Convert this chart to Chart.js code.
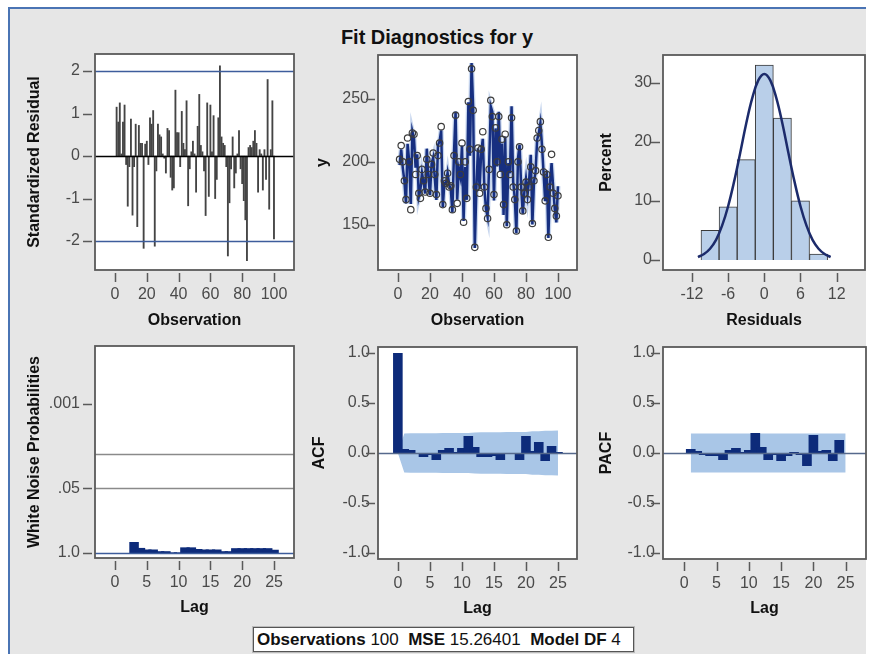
<!DOCTYPE html>
<html>
<head>
<meta charset="utf-8">
<script src="https://cdn.jsdelivr.net/npm/chart.js@4.4.1/dist/chart.umd.min.js"></script>
<style>
body{margin:0;background:#fff;width:874px;height:660px;overflow:hidden;position:relative;font-family:"Liberation Sans",Arial,sans-serif}
#frame{position:absolute;left:8px;top:7px;width:858px;height:647px;background:#e6e6e6;border-left:2px solid #4a74b4;border-top:2px solid #4a74b4;box-sizing:border-box}
#title{position:absolute;left:0;top:25px;width:874px;text-align:center;font-weight:bold;font-size:20px;line-height:24px;color:#111}
#stats{position:absolute;left:253px;top:627px;width:381px;height:25px;box-sizing:border-box;border:1px solid #555;box-shadow:0 0 0 1px #bbb;background:#fff;font-size:17px;line-height:23px;padding-left:3px;white-space:pre;color:#111}
canvas{position:absolute}
</style>
</head>
<body>
<div id="frame"></div>
<div id="title">Fit Diagnostics for y</div>
<div id="stats"><b>Observations</b> 100  <b>MSE</b> 15.26401  <b>Model DF</b> 4</div>
<script>
// ---- values ----
const stdResiduals = [1.15, 0.8, 1.25, 0.05, 0.8, 1.2, -0.2, -1.18, -0.25, 0.87,
  -1.39, -0.25, 0.75, -1.66, 0.72, 0.3, 0.3, -2.17, 0.28, 0.35,
  -0.2, 0.9, 0.75, 1.07, -2.12, -0.35, 0.75, 0.5, 0.45, 0.05,
  -0.05, -0.4, 0.65, 0.6, -0.5, -0.8, -0.75, 1.55, 0.55, 0.55,
  -0.25, 1.05, 0.3, 0.15, 1.3, -1.17, -0.3, 0.1, 0.35, 0.05,
  -0.85, 0.7, 1.45, 0.25, 0.1, -0.35, -1.4, 1.25, -0.95, 1.2,
  0.1, 0.95, -1.0, -0.55, 0.9, 2.12, 0.45, 0.3, 0.25, -0.25,
  -2.35, -1.1, -0.3, 0.45, -0.75, -0.4, 0.05, 0.6, -0.3, -0.65,
  -1.05, -1.5, -2.46, 0.2, 0.25, 0.2, 0.35, 0.6, 0.3, -0.85,
  0.15, 0.05, -0.8, 0.15, -0.55, 1.8, -1.25, 0.15, 1.3, -1.95];

const observedY = [202, 213, 200, 185, 170, 219, 200, 162, 223, 222,
  190, 205, 175, 171, 194, 185, 176, 202, 190, 175,
  198, 207, 190, 174, 205, 215, 228, 166, 185, 183,
  191, 180, 181, 162, 205, 237, 167, 200, 190, 215,
  152, 200, 171, 248, 210, 274, 241, 132, 180, 211,
  175, 210, 224, 180, 163, 155, 194, 249, 236, 174,
  227, 200, 236, 190, 218, 166, 222, 150, 200, 190,
  235, 180, 170, 145, 200, 212, 180, 161, 175, 184,
  170, 180, 196, 151, 185, 193, 219, 225, 232, 210,
  192, 169, 190, 140, 180, 206, 175, 163, 157, 173];

const predictedY = [197.5, 209.9, 195.1, 184.8, 166.9, 214.3, 200.8, 166.6, 224.0, 218.6,
  195.4, 206.0, 172.1, 177.5, 191.2, 183.8, 174.8, 210.5, 188.9, 173.6,
  198.8, 203.5, 187.1, 169.8, 213.3, 216.4, 225.1, 164.0, 183.2, 182.8,
  191.2, 181.6, 178.5, 159.7, 207.0, 240.1, 169.9, 194.0, 187.9, 212.9,
  153.0, 195.9, 169.8, 247.4, 204.9, 278.6, 242.2, 131.6, 178.6, 210.8,
  178.3, 207.3, 218.3, 179.0, 162.6, 156.4, 199.5, 244.1, 239.7, 169.3,
  226.6, 196.3, 239.9, 192.1, 214.5, 157.7, 220.2, 148.8, 199.0, 191.0,
  244.2, 184.3, 171.2, 143.2, 202.9, 213.6, 179.8, 158.7, 176.2, 186.5,
  174.1, 185.9, 205.6, 150.2, 184.0, 192.2, 217.6, 222.7, 230.8, 213.3,
  191.4, 168.8, 193.1, 139.4, 182.1, 199.0, 179.9, 162.4, 151.9, 180.6];

const residBinMid = [-9, -6, -3, 0, 3, 6, 9];
const residBinPct = [5, 9, 17, 33, 24, 10, 1];
const normalX = [-11, -10, -9, -8, -7, -6, -5, -4, -3, -2, -1, 0, 1, 2, 3, 4, 5, 6, 7, 8, 9, 10, 11];
const normalPct = [0.5, 1.0, 1.9, 3.4, 5.8, 9.1, 13.3, 18.1, 23.1, 27.4, 30.4, 31.5, 30.4, 27.4, 23.1, 18.1, 13.3, 9.1, 5.8, 3.4, 1.9, 1.0, 0.5];

// white noise test p-values, lags 1..25
const wnProb = [null, null, 0.60, 0.79, 0.85, 0.85, 0.92, 0.92, 0.97, 0.97,
  0.77, 0.77, 0.83, 0.85, 0.85, 0.85, 0.92, 0.92, 0.80, 0.80,
  0.80, 0.80, 0.80, 0.80, 0.86];

// autocorrelations, lags 0..25
const acf = [1.0, 0.04, 0.03, -0.01, -0.04, -0.02, -0.07, 0.03, 0.05, 0.01,
  0.05, 0.17, 0.06, -0.04, -0.04, -0.03, -0.07, 0.0, -0.01, -0.07,
  0.17, 0.02, 0.11, -0.08, 0.07, 0.01];
const acfUpper = [0, 0.196, 0.197, 0.197, 0.197, 0.197, 0.198, 0.199, 0.199, 0.2,
  0.2, 0.2, 0.206, 0.207, 0.207, 0.207, 0.208, 0.209, 0.209, 0.209,
  0.21, 0.218, 0.218, 0.223, 0.223, 0.225];
const acfLower = [0, -0.196, -0.197, -0.197, -0.197, -0.197, -0.198, -0.199, -0.199, -0.2,
  -0.2, -0.2, -0.206, -0.207, -0.207, -0.207, -0.208, -0.209, -0.209, -0.209,
  -0.21, -0.218, -0.218, -0.223, -0.223, -0.225];

// partial autocorrelations, lags 1..25
const pacf = [0.04, 0.02, -0.02, -0.03, -0.03, -0.07, 0.03, 0.05, 0.01, 0.03,
  0.2, 0.06, -0.07, -0.02, -0.08, -0.03, 0.01, -0.02, -0.13, 0.18,
  0.02, 0.03, -0.08, 0.13, -0.01];
const pacfUpper = [0.196, 0.196, 0.196, 0.196, 0.196, 0.196, 0.196, 0.196, 0.196, 0.196,
  0.196, 0.196, 0.196, 0.196, 0.196, 0.196, 0.196, 0.196, 0.196, 0.196,
  0.196, 0.196, 0.196, 0.196, 0.196];
const pacfLower = [-0.196, -0.196, -0.196, -0.196, -0.196, -0.196, -0.196, -0.196, -0.196, -0.196,
  -0.196, -0.196, -0.196, -0.196, -0.196, -0.196, -0.196, -0.196, -0.196, -0.196,
  -0.196, -0.196, -0.196, -0.196, -0.196];

// tick values and labels
const obsTicks = [0, 20, 40, 60, 80, 100];
const lagTicks = [0, 5, 10, 15, 20, 25];
const stdResTicks = [-2, -1, 0, 1, 2];
const yValueTicks = [150, 200, 250];
const residTicks = [-12, -6, 0, 6, 12];
const pctTicks = [0, 10, 20, 30];
const wnTicks = [0.001, 0.05, 1.0];
const wnTickLabels = ['.001', '.05', '1.0'];
const corrTicks = [-1, -0.5, 0, 0.5, 1];
const corrTickLabels = ['-1.0', '-0.5', '0.0', '0.5', '1.0'];

// ---- styling ----
const NAVY = '#0d2b7a';
const BAND = '#a9c6e7';
const REF_BLUE = '#3d5d9c';
const TICK_COLOR = '#4a4a4a';
const TITLE_COLOR = '#111';
const FRAME_COLOR = '#5a5a5a';
const Y_AXIS_W = 81, PAD_TOP = 30, PAD_RIGHT = 12;

Chart.defaults.font.family = '"Liberation Sans", Arial, sans-serif';

// white plot area, reference lines, frame and outside tick marks
const decor = {
  id: 'decor',
  beforeDraw(chart) {
    const {ctx, chartArea: a} = chart;
    ctx.save();
    ctx.fillStyle = '#fff';
    ctx.fillRect(a.left, a.top, a.width, a.height);
    ctx.restore();
  },
  afterDatasetsDraw(chart, args, opts) {
    const {ctx, chartArea: a, scales} = chart;
    ctx.save();
    ctx.beginPath(); ctx.rect(a.left, a.top, a.width, a.height); ctx.clip();
    (opts.lines || []).forEach(ln => {
      const y = Math.round(scales.y.getPixelForValue(ln.value)) + 0.5;
      ctx.strokeStyle = ln.color;
      ctx.lineWidth = ln.width;
      ctx.beginPath(); ctx.moveTo(a.left, y); ctx.lineTo(a.right, y); ctx.stroke();
    });
    ctx.restore();
  },
  afterDraw(chart) {
    const {ctx, chartArea: a, scales} = chart;
    ctx.save();
    ctx.strokeStyle = FRAME_COLOR;
    ctx.lineWidth = 1.8;
    ctx.strokeRect(a.left, a.top, a.width, a.height);
    ctx.lineWidth = 1.5;
    ctx.beginPath();
    scales.x.ticks.forEach(t => {
      const x = Math.round(scales.x.getPixelForValue(t.value)) + 0.5;
      ctx.moveTo(x, a.bottom + 3); ctx.lineTo(x, a.bottom + 12);
    });
    scales.y.ticks.forEach(t => {
      const y = Math.round(scales.y.getPixelForValue(t.value)) + 0.5;
      ctx.moveTo(a.left - 12, y); ctx.lineTo(a.left - 3, y);
    });
    ctx.stroke();
    ctx.restore();
  }
};
Chart.register(decor);

function panel(area, cfg) {
  const [L, T, R, B] = area;
  const w = Y_AXIS_W + (R - L) + PAD_RIGHT;
  const h = PAD_TOP + (B - T) + cfg.xAxisH;
  const cv = document.createElement('canvas');
  cv.width = w; cv.height = h;
  cv.style.width = w + 'px'; cv.style.height = h + 'px';
  cv.style.left = (L - Y_AXIS_W) + 'px';
  cv.style.top = (T - PAD_TOP) + 'px';
  document.body.appendChild(cv);

  const xTicks = cfg.xTicks, yTicks = cfg.yTicks, yLabels = cfg.yLabels;
  return new Chart(cv, {
    type: cfg.type,
    data: {datasets: cfg.datasets},
    options: {
      responsive: false,
      animation: false,
      events: [],
      layout: {padding: {top: PAD_TOP, right: PAD_RIGHT, left: 0, bottom: 0}},
      plugins: {legend: {display: false}, tooltip: {enabled: false}, decor: {lines: cfg.lines || []}},
      scales: {
        x: {
          type: 'linear', min: cfg.xMin, max: cfg.xMax, bounds: 'data', offset: false,
          grid: {display: false, drawTicks: false, offset: false}, border: {display: false},
          ticks: {padding: 15, color: TICK_COLOR, font: {size: 16}, autoSkip: false, maxRotation: 0,
                  callback: v => String(v)},
          title: {display: true, text: cfg.xTitle, color: TITLE_COLOR, font: {size: 16, weight: 'bold'},
                  padding: {top: 0, bottom: 2}},
          afterBuildTicks: s => { s.ticks = xTicks.map(v => ({value: v})); },
          afterFit: s => { s.height = cfg.xAxisH; }
        },
        y: {
          type: cfg.yType || 'linear', min: cfg.yMin, max: cfg.yMax, reverse: !!cfg.yReverse,
          bounds: 'data', beginAtZero: false,
          grid: {display: false, drawTicks: false}, border: {display: false},
          ticks: {padding: L - cfg.yLabelRight, color: TICK_COLOR, font: {size: 16}, autoSkip: false,
                  callback: (v, i) => yLabels ? yLabels[i] : String(v)},
          title: {display: true, text: cfg.yTitle, color: TITLE_COLOR, font: {size: 16, weight: 'bold'},
                  padding: {top: cfg.yTitleX - (L - Y_AXIS_W) - 9.6, bottom: 0}},
          afterBuildTicks: s => { s.ticks = yTicks.map(v => ({value: v})); },
          afterFit: s => { s.width = Y_AXIS_W; }
        }
      }
    }
  });
}

const byObs = arr => arr.map((v, i) => ({x: i + 1, y: v}));
const byLag0 = arr => arr.map((v, i) => ({x: i, y: v}));
const byLag1 = arr => arr.map((v, i) => ({x: i + 1, y: v}));

// Standardized residuals
panel([95, 54, 294, 270], {
  type: 'bar', xAxisH: 62,
  xMin: -12.6, xMax: 112.6, xTicks: obsTicks, xTitle: 'Observation',
  yMin: -2.68, yMax: 2.4, yTicks: stdResTicks, yTitle: 'Standardized Residual', yTitleX: 35, yLabelRight: 80,
  datasets: [{data: byObs(stdResiduals), backgroundColor: '#444', barThickness: 1.2}],
  lines: [{value: 0, color: '#000', width: 1.5}, {value: 2, color: REF_BLUE, width: 1.5}, {value: -2, color: REF_BLUE, width: 1.5}]
});

// Observed and predicted y
panel([378, 55, 577, 270], {
  type: 'line', xAxisH: 62,
  xMin: -12.5, xMax: 111.9, xTicks: obsTicks, xTitle: 'Observation',
  yMin: 114, yMax: 285, yTicks: yValueTicks, yTitle: 'y', yTitleX: 323, yLabelRight: 369,
  datasets: [
    {data: byObs(observedY), showLine: false, pointRadius: 3.2, pointBorderWidth: 1.2,
     pointBorderColor: '#3c3c3c', pointBackgroundColor: 'rgba(255,255,255,0)'},
    {data: byObs(predictedY), borderColor: '#172f80', borderWidth: 2.5, pointRadius: 0},
    {data: byObs(predictedY), borderColor: 'rgba(70,120,200,0.3)', borderWidth: 5, pointRadius: 0}
  ]
});

// Residual histogram with normal curve
panel([663, 55, 865, 270], {
  type: 'bar', xAxisH: 62,
  xMin: -16.8, xMax: 16.7, xTicks: residTicks, xTitle: 'Residuals',
  yMin: -1.7, yMax: 34.7, yTicks: pctTicks, yTitle: 'Percent', yTitleX: 607, yLabelRight: 652,
  datasets: [
    {type: 'line', data: normalX.map((x, i) => ({x, y: normalPct[i]})), borderColor: '#1c2b6b',
     borderWidth: 2.5, pointRadius: 0, tension: 0.4, fill: false},
    {type: 'bar', data: residBinMid.map((x, i) => ({x, y: residBinPct[i]})), backgroundColor: '#b9cfe9',
     borderColor: '#3a3a3a', borderWidth: 1, barPercentage: 1, categoryPercentage: 1}
  ]
});

// White noise probabilities
panel([95, 346, 294, 558], {
  type: 'bar', xAxisH: 61,
  xMin: -3.14, xMax: 28.14, xTicks: lagTicks, xTitle: 'Lag',
  yType: 'logarithmic', yReverse: true, yMin: 0.000069, yMax: 1.26,
  yTicks: wnTicks, yLabels: wnTickLabels, yTitle: 'White Noise Probabilities', yTitleX: 35, yLabelRight: 80,
  datasets: [{data: byLag1(wnProb).filter(p => p.y !== null), backgroundColor: NAVY, base: 1,
              barPercentage: 1.5, categoryPercentage: 1}],
  lines: [{value: 0.01, color: '#8a8a8a', width: 1.5}, {value: 0.05, color: '#8a8a8a', width: 1.5},
          {value: 1.0, color: REF_BLUE, width: 1.5}]
});

// ACF
panel([378, 347, 577, 559], {
  type: 'bar', xAxisH: 61,
  xMin: -3.1, xMax: 27.97, xTicks: lagTicks, xTitle: 'Lag',
  yMin: -1.06, yMax: 1.06, yTicks: corrTicks, yLabels: corrTickLabels, yTitle: 'ACF', yTitleX: 320, yLabelRight: 370,
  datasets: [
    {type: 'bar', data: byLag0(acf), backgroundColor: NAVY, barPercentage: 1.5, categoryPercentage: 1},
    {type: 'line', data: byLag0(acfUpper), borderColor: 'rgba(0,0,0,0)', borderWidth: 1, pointRadius: 0, fill: '+1', backgroundColor: BAND},
    {type: 'line', data: byLag0(acfLower), borderColor: 'rgba(0,0,0,0)', borderWidth: 1, pointRadius: 0, fill: false}
  ],
  lines: [{value: 0, color: '#56698c', width: 1.5}]
});

// PACF
panel([663, 347, 866, 559], {
  type: 'bar', xAxisH: 61,
  xMin: -3.3, xMax: 28.15, xTicks: lagTicks, xTitle: 'Lag',
  yMin: -1.06, yMax: 1.06, yTicks: corrTicks, yLabels: corrTickLabels, yTitle: 'PACF', yTitleX: 607, yLabelRight: 655,
  datasets: [
    {type: 'bar', data: byLag1(pacf), backgroundColor: NAVY, barPercentage: 1.5, categoryPercentage: 1},
    {type: 'line', data: byLag1(pacfUpper), borderColor: 'rgba(0,0,0,0)', borderWidth: 1, pointRadius: 0, fill: '+1', backgroundColor: BAND},
    {type: 'line', data: byLag1(pacfLower), borderColor: 'rgba(0,0,0,0)', borderWidth: 1, pointRadius: 0, fill: false}
  ],
  lines: [{value: 0, color: '#56698c', width: 1.5}]
});
</script>
</body>
</html>
